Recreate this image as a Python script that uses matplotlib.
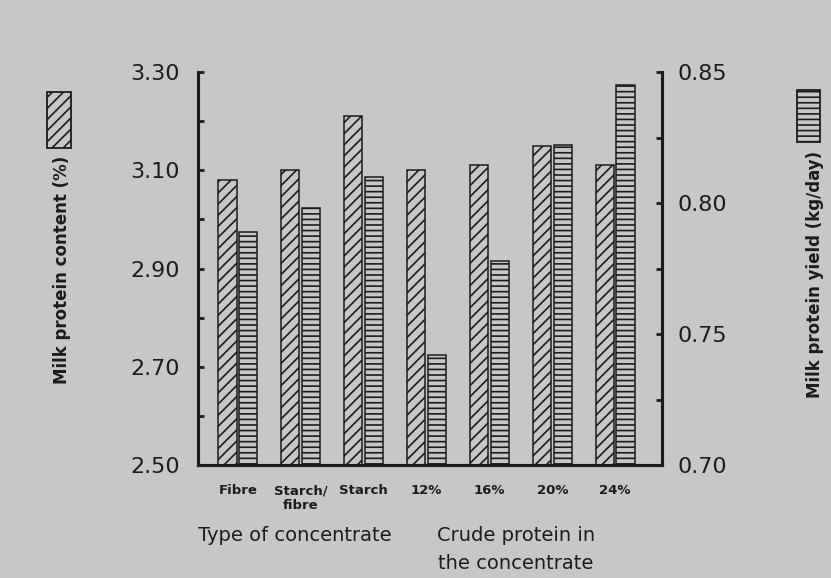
import matplotlib
matplotlib.use("Agg")
import matplotlib.pyplot as plt
from matplotlib.patches import Rectangle
import numpy as np

categories = ['Fibre', 'Starch/\nfibre', 'Starch', '12%', '16%', '20%', '24%']
protein_content = [3.08, 3.10, 3.21, 3.10, 3.11, 3.15, 3.11]      # left axis (%)
protein_yield = [0.789, 0.798, 0.810, 0.742, 0.778, 0.822, 0.845]  # right axis (kg/day)
left_ticks = [2.50, 2.70, 2.90, 3.10, 3.30]
right_ticks = [0.70, 0.75, 0.80, 0.85]

BG = '#c9c6c7'
INK = '#1c1c1c'
plt.rcParams['font.family'] = ['DejaVu Sans']
plt.rcParams['hatch.linewidth'] = 1.2
plt.rcParams['hatch.color'] = INK

fig = plt.figure(figsize=(8.31, 5.78), dpi=100, facecolor=BG)
ax = fig.add_axes([0.238, 0.1955, 0.559, 0.6799])
ax.set_facecolor('none')
ax2 = ax.twinx()
ax2.set_facecolor('none')

x = np.arange(len(categories))
w = 0.29
off = 0.165
ax.bar(x - off, protein_content, width=w, facecolor=BG, edgecolor=INK,
       linewidth=1.1, hatch='///', zorder=2)
ax2.bar(x + off, protein_yield, width=w, facecolor=BG, edgecolor=INK,
        linewidth=1.1, hatch='---', zorder=2)

ax.set_ylim(2.50, 3.30)
ax2.set_ylim(0.70, 0.85)
ax.set_xlim(-0.637, 6.75)

ax.set_yticks(left_ticks)
ax.set_yticklabels([f'{v:.2f}' for v in left_ticks])
ax.set_yticks(np.arange(2.6, 3.3, 0.2), minor=True)
ax2.set_yticks(right_ticks)
ax2.set_yticklabels([f'{v:.2f}' for v in right_ticks])
ax2.set_yticks([0.725, 0.775, 0.825], minor=True)

for a in (ax, ax2):
    a.spines['top'].set_visible(False)
    for s in a.spines.values():
        s.set_linewidth(2.2)
        s.set_color(INK)

ax.tick_params(axis='y', which='both', direction='in', length=4, width=2,
               color=INK, labelsize=16, labelcolor=INK, pad=13)
ax2.tick_params(axis='y', which='both', direction='in', length=4, width=2,
                color=INK, labelsize=16, labelcolor=INK, pad=11)

ax.set_xticks(x)
ax.set_xticklabels(categories, fontsize=9.5, fontweight='bold', color=INK,
                   linespacing=1.2)
ax.tick_params(axis='x', length=0, pad=14)
ax2.tick_params(axis='x', length=0)

fig.text(0.0746, 0.533, 'Milk protein content (%)', rotation=90, ha='center',
         va='center', fontsize=12, fontweight='bold', color=INK)
fig.text(0.981, 0.526, 'Milk protein yield (kg/day)', rotation=90, ha='center',
         va='center', fontsize=12, fontweight='bold', color=INK)

fig.text(0.355, 0.073, 'Type of concentrate', ha='center', va='center',
         fontsize=14, color=INK)
fig.text(0.621, 0.05, 'Crude protein in\nthe concentrate', ha='center', va='center',
         fontsize=14, color=INK, linespacing=1.6)

fig.patches.append(Rectangle((0.0566, 0.744), 0.0289, 0.0969, transform=fig.transFigure,
                             facecolor=BG, edgecolor=INK, linewidth=1.3, hatch='///'))
fig.patches.append(Rectangle((0.959, 0.754), 0.0277, 0.090, transform=fig.transFigure,
                             facecolor=BG, edgecolor=INK, linewidth=1.3, hatch='---'))

fig.savefig('out.png', dpi=100, facecolor=BG)
